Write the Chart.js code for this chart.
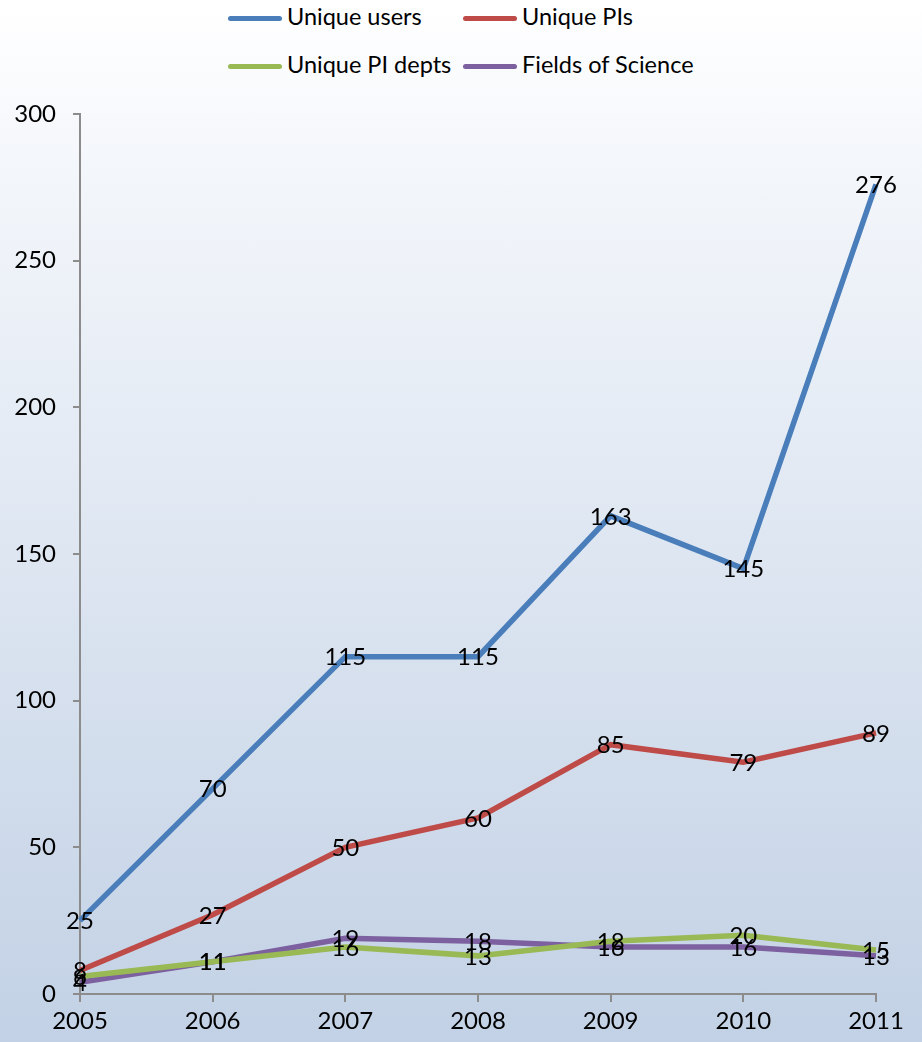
<!DOCTYPE html>
<html>
<head>
<meta charset="utf-8">
<script src="https://cdn.jsdelivr.net/npm/chart.js@4.4.1/dist/chart.umd.min.js"></script>
<style>
  html, body { margin: 0; padding: 0; }
  body {
    width: 922px; height: 1042px; overflow: hidden; position: relative;
    background: linear-gradient(to bottom, #ffffff 0%, #f4f7fb 15%, #c2d1e5 100%);
    font-family: Lato, "Liberation Sans", sans-serif;
  }
  #wrap { position: absolute; left: 0; top: 0; width: 922px; height: 1042px; }
  .leg { position: absolute; font-size: 23.5px; color: #000; line-height: 26px; white-space: nowrap; }
  .leg i { display: inline-block; width: 54px; height: 5px; border-radius: 3px; vertical-align: middle; margin-right: 5px; position: relative; top: -1px; }
</style>
</head>
<body>
<div id="legend"></div>
<div id="wrap"><canvas id="chart" width="922" height="1042"></canvas></div>
<script>
var years = ["2005", "2006", "2007", "2008", "2009", "2010", "2011"];
var uniqueUsers = [25, 70, 115, 115, 163, 145, 276];
var uniquePIs = [8, 27, 50, 60, 85, 79, 89];
var uniqueDepts = [6, 11, 16, 13, 18, 20, 15];
var fieldsOfScience = [4, 11, 19, 18, 16, 16, 13];

var seriesNames = ["Unique users", "Unique PIs", "Unique PI depts", "Fields of Science"];
var colors = ["#4a7ebb", "#be4b48", "#98b954", "#7d60a0"];

// legend as html, two rows like the original
var legPos = [[228, 3], [463, 3], [228, 51], [463, 51]];
var legHtml = "";
for (var i = 0; i < seriesNames.length; i++) {
    legHtml += '<div class="leg" style="left:' + legPos[i][0] + 'px;top:' + legPos[i][1] + 'px">' +
        '<i style="background:' + colors[i] + '"></i>' + seriesNames[i] + '</div>';
}
document.getElementById('legend').innerHTML = legHtml;

var valueLabels = {
    id: 'valueLabels',
    afterDatasetsDraw: function(chart) {
        var ctx = chart.ctx;
        ctx.save();
        ctx.font = '24px Lato, "Liberation Sans", sans-serif';
        ctx.fillStyle = '#000';
        ctx.textAlign = 'center';
        ctx.textBaseline = 'middle';
        chart.data.datasets.forEach(function(ds, di) {
            chart.getDatasetMeta(di).data.forEach(function(pt, j) {
                ctx.fillText(String(ds.data[j]), pt.x, pt.y + 1);
            });
        });
        ctx.restore();
    }
};

function makeSet(label, values, color) {
    return {
        label: label,
        data: values,
        borderColor: color,
        backgroundColor: color,
        borderWidth: 5.5,
        pointRadius: 0,
        tension: 0,
        fill: false
    };
}

var axisColor = '#8c8c8c';
var tickFont = { family: 'Lato, "Liberation Sans", sans-serif', size: 24 };

new Chart(document.getElementById('chart').getContext('2d'), {
    type: 'line',
    data: {
        labels: years,
        datasets: [
            makeSet(seriesNames[0], uniqueUsers, colors[0]),
            makeSet(seriesNames[1], uniquePIs, colors[1]),
            makeSet(seriesNames[2], uniqueDepts, colors[2]),
            makeSet(seriesNames[3], fieldsOfScience, colors[3])
        ]
    },
    options: {
        responsive: false,
        animation: false,
        layout: { padding: { top: 114, right: 46, left: 0, bottom: 0 } },
        plugins: {
            legend: { display: false },
            tooltip: { enabled: false }
        },
        scales: {
            x: {
                offset: false,
                border: { color: axisColor, width: 2 },
                grid: { display: true, drawOnChartArea: false, drawTicks: true, tickLength: 8, color: axisColor, lineWidth: 2 },
                ticks: { color: '#000', font: tickFont, padding: 5, maxRotation: 0 },
                afterFit: function(scale) { scale.height = 48; }
            },
            y: {
                min: 0,
                max: 300,
                border: { color: axisColor, width: 2 },
                grid: { display: true, drawOnChartArea: false, drawTicks: true, tickLength: 7, color: axisColor, lineWidth: 2 },
                ticks: { stepSize: 50, color: '#000', font: tickFont, padding: 17 },
                afterFit: function(scale) { scale.width = 80; }
            }
        }
    },
    plugins: [valueLabels]
});
</script>
</body>
</html>
